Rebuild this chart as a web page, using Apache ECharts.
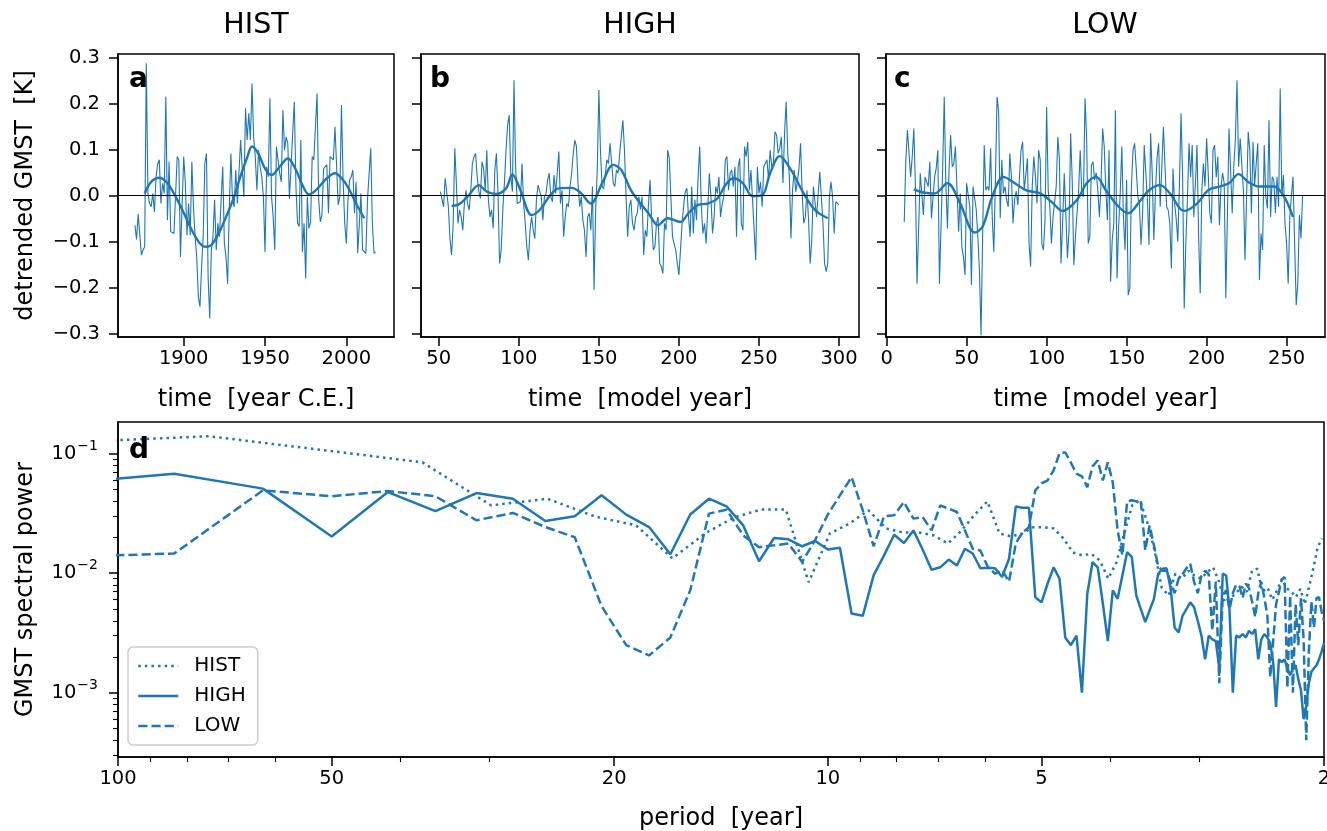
<!DOCTYPE html>
<html><head><meta charset="utf-8">
<script src="https://cdn.jsdelivr.net/npm/echarts@6/dist/echarts.min.js"></script>
<style>html,body{margin:0;padding:0;background:#fff}#c{width:1327px;height:831px}</style>
</head><body><div id="c"></div>
<script>
// ---------------- DATA ----------------
const panelTitles = ['HIST', 'HIGH', 'LOW'];
const panelLetters = ['a', 'b', 'c', 'd'];
const legendNames = ['HIST', 'HIGH', 'LOW'];

// detrended GMST [K], annual
const histStartYear = 1870;
const histRaw = [
 -0.064,-0.095,-0.040,-0.042,-0.129,-0.118,-0.111,0.288,0.005,-0.017,
 -0.024,0.005,-0.035,0.041,0.070,0.078,-0.017,0.027,0.005,0.215,
 -0.053,0.074,-0.078,-0.075,-0.082,-0.078,0.085,0.078,-0.133,-0.024,
 0.085,0.027,-0.086,-0.017,-0.086,0.074,-0.024,-0.089,-0.133,-0.220,
 -0.241,-0.154,-0.086,0.070,0.092,-0.176,-0.267,-0.118,-0.089,-0.009,
 -0.118,-0.060,-0.089,-0.009,0.063,-0.104,-0.133,-0.191,-0.031,0.092,
 -0.009,-0.024,0.056,-0.017,0.052,0.121,0.125,-0.002,0.190,0.121,
 0.179,0.121,0.244,0.128,0.085,0.012,0.099,0.063,0.041,-0.002,
 -0.122,0.063,0.041,0.212,-0.002,-0.046,-0.118,0.107,0.103,0.049,
 0.030,0.186,0.099,0.128,0.114,-0.006,0.063,0.136,0.204,0.020,
 -0.060,-0.067,0.121,-0.122,-0.060,-0.180,-0.002,-0.071,-0.057,0.085,
 0.078,0.081,0.222,-0.009,-0.057,-0.042,0.059,0.063,0.067,-0.038,
 0.085,0.088,0.078,0.150,0.146,-0.020,-0.002,0.197,0.034,-0.060,
 -0.104,-0.009,0.034,0.041,0.056,-0.038,0.030,-0.125,-0.060,0.005,
 -0.118,-0.114,-0.125,-0.009,0.049,0.103,-0.060,-0.125,-0.122
];
const histSmoothYears = [1876,1880,1885,1890,1895,1900,1905,1910,1913,1917,1922,1927,1931,1935,1939,1942,1946,1950,1954,1959,1964,1969,1973,1977,1981,1988,1993,1998,2002,2006,2011];
const histSmoothVals = [0.005,0.03,0.039,0.027,-0.002,-0.037,-0.075,-0.104,-0.111,-0.107,-0.078,-0.038,-0.002,0.043,0.083,0.107,0.091,0.059,0.045,0.063,0.081,0.056,0.023,0.003,0.011,0.038,0.049,0.034,0.012,-0.017,-0.049];

const highStartYear = 51;
const highRaw = [
 0.009,0.005,-0.024,0.038,0.034,-0.024,-0.093,-0.129,-0.06,0.103,
 0.027,-0.06,-0.031,-0.046,-0.075,-0.017,0.012,-0.017,-0.031,0.012,
 0.07,0.085,0.092,0.041,0.01,-0.006,0.074,0.059,0.012,0.099,
 -0.009,-0.046,-0.031,-0.071,0.056,0.092,0.005,-0.147,-0.118,-0.031,
 0.027,0.099,0.154,0.175,0.041,0.009,0.251,0.063,-0.017,-0.02,
 -0.013,0.07,-0.017,-0.06,-0.111,-0.14,-0.075,-0.046,-0.075,-0.093,
 -0.009,0.023,0.027,-0.002,-0.053,-0.002,0.005,0.034,0.049,-0.002,
 -0.013,0.045,0.005,0.05,0.096,-0.017,0.012,-0.089,-0.046,-0.017,
 -0.024,0.02,0.049,0.092,0.121,0.107,0.027,-0.024,-0.002,-0.053,
 -0.075,-0.133,-0.046,-0.038,-0.075,0.02,-0.205,-0.031,0.056,0.23,
 0.099,0.02,0.015,0.012,0.078,0.07,0.114,0.114,0.027,0.02,
 0.056,0.049,0.092,0.092,0.164,0.099,-0.002,-0.089,-0.024,-0.009,
 -0.06,-0.075,-0.046,-0.038,-0.002,-0.03,-0.002,-0.129,-0.075,-0.089,
 -0.017,0.034,-0.053,-0.118,-0.111,-0.06,-0.046,-0.147,-0.154,-0.169,
 -0.06,-0.075,0.099,0.081,0.085,-0.089,-0.104,-0.118,-0.147,-0.172,
 -0.118,-0.06,-0.02,0.009,0.016,-0.046,-0.089,0.02,-0.082,-0.009,
 -0.053,0.041,0.107,-0.024,-0.082,-0.06,-0.104,-0.031,0.049,-0.002,
 -0.082,-0.046,0.02,0.005,0.041,-0.046,-0.02,-0.002,0.078,0.085,
 0.012,0.049,0.056,0.02,0.063,-0.089,0.063,0.081,-0.06,-0.075,
 0.107,0.085,0.117,0.012,0.056,-0.009,-0.075,-0.14,0.063,0.005,
 0.03,-0.024,0.063,0.067,0.078,0.034,0.099,0.063,0.07,0.139,
 0.132,0.092,0.103,0.128,0.027,0.136,0.204,0.092,0.041,-0.093,
 0.012,0.056,0.009,0.03,0.059,0.114,0.005,-0.06,-0.046,0.012,
 -0.053,-0.147,-0.096,0.02,0.02,-0.046,0.005,0.052,0.049,-0.06,
 -0.147,-0.165,-0.147,-0.002,0.03,-0.002,-0.082,-0.013,-0.017,-0.02
];
const highSmoothYears = [58,62,68,75,80,86,92,96,101,108,113,119,125,133,139,145,152,159,164,170,176,181,187,193,201,206,212,218,224,229,234,240,246,252,257,263,270,278,285,293];
const highSmoothVals = [-0.022,-0.02,-0.002,0.023,0.009,0.004,0.016,0.046,0.012,-0.042,-0.031,-0.002,0.016,0.017,0.005,-0.017,0.027,0.067,0.056,0.012,-0.017,-0.038,-0.064,-0.049,-0.057,-0.038,-0.02,-0.017,-0.006,0.023,0.038,0.027,-0.001,0.001,0.049,0.086,0.056,0.005,-0.031,-0.049];

const lowStartYear = 11;
const lowRaw = [
 -0.057,0.078,0.143,0.092,0.041,0.085,0.146,0.02,-0.191,-0.187,
 0.049,0.045,-0.042,0.041,0.041,0.02,0.074,-0.049,-0.053,0.041,
 0.06,0.099,-0.191,-0.191,0.056,0.215,0.027,-0.071,0.056,0.132,
 0.063,0.07,0.107,0.012,-0.078,0.005,-0.111,-0.133,-0.172,0.027,
 0.03,-0.024,-0.194,0.02,0.023,-0.03,-0.089,-0.162,-0.303,-0.089,
 0.11,0.012,0.02,0.012,0.103,-0.046,-0.122,0.034,0.215,0.183,
 -0.049,0.078,0.005,0.02,-0.009,-0.024,0.092,0.041,-0.06,-0.006,
 0.01,-0.02,-0.017,0.099,0.117,0.012,0.012,0.081,-0.104,-0.154,
 0.02,0.085,0.041,-0.017,0.099,0.078,-0.104,-0.118,-0.053,0.193,
 0.012,-0.024,-0.104,-0.046,-0.042,0.02,0.128,0.078,-0.147,-0.06,
 0.049,-0.038,-0.136,-0.075,0.136,0.034,-0.151,-0.089,-0.093,0.012,
 0.099,0.005,-0.002,0.212,0.128,-0.104,-0.089,0.067,0.074,0.034,
 0.05,0.012,-0.046,0.027,0.146,0.107,0.012,-0.053,0.099,-0.187,
 -0.096,-0.06,0.186,-0.18,-0.067,0.005,0.107,-0.046,-0.118,0.034,
 -0.216,-0.201,0.02,0.099,0.114,0.06,-0.002,-0.02,-0.107,-0.038,
 0.11,0.114,-0.009,-0.107,0.136,0.049,-0.096,0.005,0.081,0.114,
 -0.024,-0.02,0.15,0.154,-0.024,-0.031,-0.06,-0.158,0.059,-0.017,
 -0.05,-0.1,0.023,0.179,0.041,-0.245,-0.104,-0.009,0.114,0.041,
 0.11,-0.046,0.027,0.11,-0.089,-0.212,0.012,0.07,0.02,0.125,
 0.049,-0.038,-0.06,0.099,0.11,0.04,0.085,-0.064,0.02,0.049,
 0.027,-0.223,-0.042,0.146,0.143,-0.038,0.063,0.125,0.251,0.063,
 0.125,0.128,0.012,-0.14,-0.002,0.139,0.099,-0.038,0.117,0.023,
 0.07,0.114,-0.183,-0.082,-0.118,0.11,-0.002,-0.028,0.164,-0.046,
 0.041,0.034,-0.038,0.041,-0.024,0.233,-0.002,0.045,-0.06,-0.104,
 -0.191,-0.046,0.0,0.041,0.041,-0.238,-0.191,-0.042,-0.093,0.001
];
const lowSmoothYears = [17,23,30,38,46,55,60,66,73,79,87,96,103,110,119,125,131,137,145,151,158,164,171,177,186,194,201,208,214,220,226,233,242,248,254];
const lowSmoothVals = [0.014,0.007,0.005,0.027,-0.017,-0.08,-0.067,-0.002,0.041,0.03,0.012,0.005,-0.013,-0.033,-0.009,0.027,0.041,0.012,-0.024,-0.038,-0.013,0.012,0.023,0.005,-0.033,-0.017,0.012,0.02,0.027,0.047,0.03,0.02,0.02,0.001,-0.046];

// spectra: period = N / k
const histN = 149, histFirstK = 1;
const histSpec = [
 0.117,0.14,0.1045,0.0846,0.0369,0.042,0.0298,0.0251,0.0133,0.0215,
 0.0293,0.0341,0.0341,0.0084,0.0215,0.0261,0.0336,0.0237,0.0219,0.0219,
 0.0207,0.0177,0.0228,0.031,0.0399,0.0215,0.0203,0.0215,0.0242,0.0242,
 0.0237,0.0195,0.0149,0.0141,0.0145,0.0128,0.009,0.0123,0.0219,0.0369,
 0.0407,0.0266,0.0155,0.0076,0.0065,0.0099,0.009,0.0105,0.0095,0.009,
 0.0102,0.0112,0.0085,0.0057,0.0062,0.0068,0.0077,0.007,0.0105,0.0109,
 0.007,0.0076,0.006,0.0072,0.009,0.0075,0.007,0.0063,0.0074,0.0055,
 0.0077,0.0112,0.0165,0.0195
];
const modelN = 250, modelFirstK = 2;
const highSpec = [
 0.055,0.068,0.051,0.0203,0.0477,0.0331,0.0468,0.042,0.0273,0.0299,
 0.0448,0.0309,0.0243,0.0144,0.031,0.042,0.0362,0.0251,0.0126,0.0197,
 0.0192,0.0168,0.0186,0.0158,0.0163,0.0046,0.0044,0.0096,0.0141,0.021,
 0.0179,0.0228,0.0158,0.0107,0.0112,0.013,0.0116,0.016,0.0146,0.011,
 0.0111,0.011,0.0093,0.0132,0.0362,0.0353,0.0353,0.0063,0.0057,0.0082,
 0.0112,0.009,0.0029,0.0025,0.003,0.001,0.0067,0.0124,0.0112,0.0056,
 0.0027,0.0072,0.0061,0.0096,0.015,0.0137,0.0065,0.005,0.0039,0.0049,
 0.0061,0.0099,0.0109,0.011,0.0075,0.0035,0.0032,0.0044,0.005,0.0057,
 0.0052,0.004,0.003,0.0019,0.003,0.0028,0.0027,0.0016,0.0099,0.0096,
 0.0049,0.001,0.003,0.0029,0.0031,0.0029,0.0033,0.0031,0.0034,0.0019,
 0.0028,0.0031,0.0029,0.0026,0.0018,0.00076,0.0019,0.0018,0.0019,0.0016,
 0.0014,0.0016,0.0017,0.0013,0.00105,0.0006,0.00078,0.0012,0.0015,0.0016,
 0.0017,0.0019,0.0022,0.0026
];
const lowSpec = [
 0.0136,0.0146,0.0493,0.044,0.0487,0.044,0.0277,0.0319,0.0243,0.02,
 0.0053,0.0025,0.00205,0.0029,0.0072,0.0315,0.034,0.0207,0.0165,0.0171,
 0.0177,0.0124,0.019,0.031,0.0448,0.0637,0.0336,0.0168,0.0299,0.0305,
 0.0394,0.0286,0.0295,0.0228,0.0369,0.0347,0.0325,0.0228,0.016,0.0155,
 0.0113,0.0099,0.0106,0.0085,0.0178,0.0219,0.0242,0.0493,0.0563,0.0598,
 0.0726,0.1006,0.1025,0.084,0.068,0.0646,0.0525,0.0783,0.088,0.0598,
 0.0846,0.0575,0.0228,0.0141,0.0399,0.0407,0.0399,0.0407,0.0155,0.0251,
 0.0171,0.0114,0.0105,0.0105,0.0085,0.0068,0.009,0.0098,0.011,0.012,
 0.0085,0.0068,0.0095,0.0105,0.0098,0.0033,0.0085,0.0012,0.0065,0.0072,
 0.005,0.0068,0.008,0.0078,0.0062,0.0082,0.0075,0.0058,0.0043,0.0068,
 0.0085,0.0062,0.0045,0.00135,0.0027,0.0055,0.007,0.0088,0.0093,0.0011,
 0.0065,0.001,0.0055,0.0025,0.0062,0.0028,0.0004,0.0022,0.0058,0.0035,
 0.0062,0.0063,0.0048,0.004
];

// tick labels
const tsYTicks = [-0.3, -0.2, -0.1, 0.0, 0.1, 0.2, 0.3];
const histXTicks = [1900, 1950, 2000];
const highXTicks = [50, 100, 150, 200, 250, 300];
const lowXTicks = [0, 50, 100, 150, 200, 250];
const periodTicks = [2, 5, 10, 20, 50, 100];
const periodMinorTicks = [3, 4, 6, 7, 8, 9, 30, 40, 60, 70, 80, 90];
const powerTicks = [0.001, 0.01, 0.1];
const powerMinorTicks = [0.0003,0.0004,0.0005,0.0006,0.0007,0.0008,0.0009,
  0.002,0.003,0.004,0.005,0.006,0.007,0.008,0.009,
  0.02,0.03,0.04,0.05,0.06,0.07,0.08,0.09];

// ---------------- CHART ----------------
const F = 'DejaVu Sans';
const BLUE = '#1f77b4';
const TICKFS = 19.5, NAMEFS = 24, TITLEFS = 28.5, LETTERFS = 28, LEGFS = 20;
const SPINE = 1.5, TICKLEN = 9, MINORLEN = 5;

const annual = (start, arr) => arr.map((v, i) => [start + i, v]);
const pairs = (xs, ys) => xs.map((x, i) => [x, ys[i]]);
const spec = (N, k0, arr) => arr.map((v, i) => [N / (k0 + i), v]);

const grids = [
  {left: 118, top: 54, width: 276, height: 283},
  {left: 421, top: 54, width: 438, height: 283},
  {left: 886, top: 54, width: 439, height: 283},
  {left: 118, top: 422, width: 1206, height: 335}
].map(g => Object.assign(g, {show: true, borderColor: '#000', borderWidth: SPINE, backgroundColor: 'transparent', containLabel: false, outerBoundsMode: 'none'}));

const blackLine = {show: true, onZero: false, lineStyle: {color: '#000', width: SPINE}};
const majorTick = ticks => ({show: true, inside: false, length: TICKLEN, lineStyle: {color: '#000', width: SPINE}, customValues: ticks});
const minorTick = ticks => ({show: true, inside: false, length: MINORLEN, lineStyle: {color: '#000', width: 1.1}, customValues: ticks});
function axisBase(extra) {
  return Object.assign({
    splitLine: {show: false},
    axisLine: blackLine,
    nameTextStyle: {fontFamily: F, fontSize: NAMEFS, color: '#000'},
    nameLocation: 'middle'
  }, extra);
}
function tsX(gi, min, max, ticks, name) {
  return axisBase({type: 'value', gridIndex: gi, min, max, position: 'bottom', name, nameGap: 51,
    axisTick: majorTick(ticks),
    axisLabel: {show: true, customValues: ticks, formatter: v => String(v), fontFamily: F, fontSize: TICKFS, color: '#000', margin: 12}
  });
}
const fmtDec = v => (v < 0 ? '\u2212' : '') + Math.abs(v).toFixed(1);
function tsY(gi, showLabels, name) {
  return axisBase({type: 'value', gridIndex: gi, min: -0.307, max: 0.308, position: 'left', name: name || '', nameGap: 80,
    axisTick: majorTick(tsYTicks),
    axisLabel: {show: showLabels, customValues: tsYTicks, formatter: fmtDec, fontFamily: F, fontSize: TICKFS, color: '#000', margin: 18}
  });
}

const xAxes = [
  tsX(0, 1859.6, 2029.3, histXTicks, 'time  [year C.E.]'),
  tsX(1, 38.9, 312.5, highXTicks, 'time  [model year]'),
  tsX(2, -0.4, 274, lowXTicks, 'time  [model year]'),
  axisBase({type: 'log', gridIndex: 3, min: 2, max: 100, inverse: true, position: 'bottom', name: 'period  [year]', nameGap: 50,
    axisTick: majorTick(periodTicks),
    axisLabel: {show: true, customValues: periodTicks, formatter: v => String(Math.round(v)), fontFamily: F, fontSize: TICKFS, color: '#000', margin: 12}
  }),
  {type: 'log', gridIndex: 3, min: 2, max: 100, inverse: true, position: 'bottom',
    axisLine: {show: false}, splitLine: {show: false}, axisLabel: {show: false}, axisTick: minorTick(periodMinorTicks)}
];
const yAxes = [
  tsY(0, true, 'detrended GMST  [K]'),
  tsY(1, false),
  tsY(2, false),
  axisBase({type: 'log', gridIndex: 3, min: 0.00029, max: 0.184, position: 'left', name: 'GMST spectral power', nameGap: 80,
    axisTick: majorTick(powerTicks),
    axisLabel: {show: true, customValues: powerTicks, margin: 20,
      formatter: v => '{m|10}{e|\u2212' + Math.abs(Math.round(Math.log10(v))) + '}',
      rich: {m: {fontFamily: F, fontSize: TICKFS, color: '#000'}, e: {fontFamily: F, fontSize: 14, color: '#000', padding: [0, 0, 15, 1]}}}
  }),
  {type: 'log', gridIndex: 3, min: 0.00029, max: 0.184, position: 'left',
    axisLine: {show: false}, splitLine: {show: false}, axisLabel: {show: false}, axisTick: minorTick(powerMinorTicks)}
];

const zeroLine = {silent: true, symbol: 'none', label: {show: false}, animation: false,
  lineStyle: {color: '#000', width: 1.2, type: 'solid'}, data: [{yAxis: 0}]};
function rawSeries(name, gi, data) {
  return {name, type: 'line', xAxisIndex: gi, yAxisIndex: gi, data, symbol: 'none', animation: false,
    lineStyle: {color: BLUE, width: 1.1}, itemStyle: {color: BLUE}, markLine: zeroLine, z: 2};
}
function smoothSeries(name, gi, data) {
  return {name, type: 'line', xAxisIndex: gi, yAxisIndex: gi, data, symbol: 'none', smooth: 0.35, animation: false,
    lineStyle: {color: BLUE, width: 2.4}, itemStyle: {color: BLUE}, z: 3};
}
function specSeries(name, data, dash) {
  return {name, type: 'line', xAxisIndex: 3, yAxisIndex: 3, data, symbol: 'none', animation: false,
    lineStyle: {color: BLUE, width: 2.5, type: dash, cap: 'butt'}, itemStyle: {color: BLUE}, z: 3};
}

const series = [
  rawSeries('HIST annual', 0, annual(histStartYear, histRaw)),
  smoothSeries('HIST smooth', 0, pairs(histSmoothYears, histSmoothVals)),
  rawSeries('HIGH annual', 1, annual(highStartYear, highRaw)),
  smoothSeries('HIGH smooth', 1, pairs(highSmoothYears, highSmoothVals)),
  rawSeries('LOW annual', 2, annual(lowStartYear, lowRaw)),
  smoothSeries('LOW smooth', 2, pairs(lowSmoothYears, lowSmoothVals)),
  specSeries(legendNames[0], spec(histN, histFirstK, histSpec), [2.5, 4.1]),
  specSeries(legendNames[1], spec(modelN, modelFirstK, highSpec), 'solid'),
  specSeries(legendNames[2], spec(modelN, modelFirstK, lowSpec), [9.2, 4])
];

const titleCenters = [256, 640, 1105];
const letterPos = [[129, 80], [430, 80], [894, 80], [129, 451]];
const graphic = [];
panelTitles.forEach((t, i) => graphic.push({type: 'text', x: titleCenters[i], y: 26, silent: true,
  style: {text: t, fill: '#000', font: TITLEFS + 'px "DejaVu Sans"', align: 'center', verticalAlign: 'middle'}}));
panelLetters.forEach((t, i) => graphic.push({type: 'text', x: letterPos[i][0], y: letterPos[i][1], silent: true, z: 10,
  style: {text: t, fill: '#000', font: 'bold ' + LETTERFS + 'px "DejaVu Sans"', align: 'left', verticalAlign: 'middle'}}));

const chart = echarts.init(document.getElementById('c'), null, {renderer: 'canvas'});
chart.setOption({
  backgroundColor: '#fff',
  animation: false,
  textStyle: {fontFamily: F},
  grid: grids,
  xAxis: xAxes,
  yAxis: yAxes,
  legend: {data: legendNames, orient: 'vertical', left: 128, top: 647, itemWidth: 40, itemHeight: 20, itemGap: 10,
    padding: [9, 12, 9, 9], textStyle: {fontFamily: F, fontSize: LEGFS, color: '#000', padding: [0, 0, 0, 11]},
    itemStyle: {opacity: 0}, lineStyle: {width: 2.5},
    borderColor: '#cccccc', borderWidth: 1.5, borderRadius: 5, backgroundColor: 'rgba(255,255,255,0.85)',
    selectedMode: false},
  graphic,
  series
});
</script></body></html>
